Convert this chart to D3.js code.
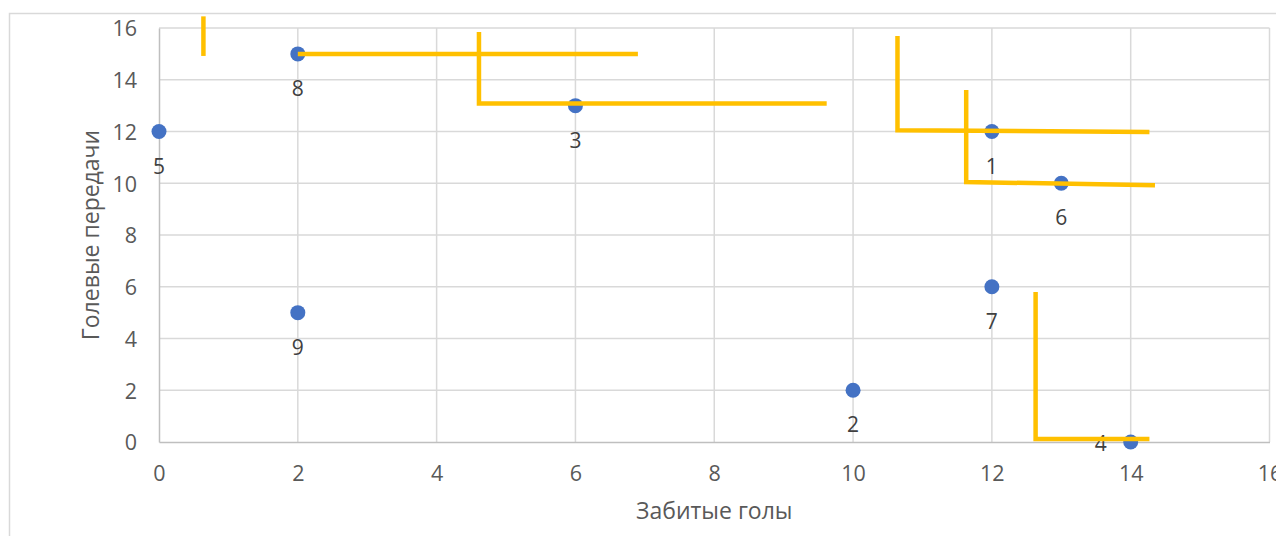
<!DOCTYPE html>
<html>
<head>
<meta charset="utf-8">
<script src="https://cdn.jsdelivr.net/npm/d3@7"></script>
<style>
  html, body { margin: 0; padding: 0; background: #fff; }
  svg { display: block; font-family: "Open Sans", "Noto Sans", sans-serif; }
</style>
</head>
<body>
<svg id="chart" width="1276" height="536"></svg>
<script>
// Players: goals scored (x) vs assists (y), each marked with its number
const playerIds = ["1", "2", "3", "4", "5", "6", "7", "8", "9"];
const goals     = [12, 10, 6, 14, 0, 13, 12, 2, 2];
const assists   = [12, 2, 13, 0, 12, 10, 6, 15, 5];

const xTicks = [0, 2, 4, 6, 8, 10, 12, 14, 16];
const yTicks = [0, 2, 4, 6, 8, 10, 12, 14, 16];

const xTitle = "Забитые голы";
const yTitle = "Голевые передачи";

// Hand-drawn dominance steps (data units)
const stepA = [[0.64, 16.45], [0.64, 14.92]];
const stepB1 = [[2.0, 15.0], [6.9, 15.0]];
const stepB2 = [[4.61, 15.85], [4.61, 13.08], [9.62, 13.08]];
const stepC = [[10.64, 15.69], [10.64, 12.05], [14.27, 11.98]];
const stepD = [[11.63, 13.6], [11.63, 10.05], [14.35, 9.92]];
const stepE = [[12.63, 5.8], [12.63, 0.12], [14.27, 0.12]];
const steps = [stepA, stepB1, stepB2, stepC, stepD, stepE];

const svg = d3.select("#chart");
const W = 1276, H = 536;

// Outer chart frame (extends past the visible area)
svg.append("path")
  .attr("d", `M9.5,${H} V13.5 H${W}`)
  .attr("fill", "none")
  .attr("stroke", "#d9d9d9")
  .attr("stroke-width", 1.5);

const x = d3.scaleLinear().domain([0, 16]).range([159, 1269.5]);
const y = d3.scaleLinear().domain([0, 16]).range([442, 28]);

// Gridlines
const grid = svg.append("g");
grid.selectAll("line.v").data(xTicks.slice(1)).join("line")
  .attr("x1", d => x(d)).attr("x2", d => x(d))
  .attr("y1", y(0)).attr("y2", y(16))
  .attr("stroke", "#d9d9d9").attr("stroke-width", 1.5);
grid.selectAll("line.h").data(yTicks.slice(1)).join("line")
  .attr("x1", x(0)).attr("x2", x(16))
  .attr("y1", d => y(d)).attr("y2", d => y(d))
  .attr("stroke", "#d9d9d9").attr("stroke-width", 1.5);

// Axes
const xAxis = d3.axisBottom(x).tickValues(xTicks).tickSize(0).tickPadding(24).tickFormat(d3.format("d"));
const yAxis = d3.axisLeft(y).tickValues(yTicks).tickSize(0).tickPadding(22).tickFormat(d3.format("d"));

const gx = svg.append("g").attr("transform", `translate(0,${y(0)})`).call(xAxis);
const gy = svg.append("g").attr("transform", `translate(${x(0)},0)`).call(yAxis);
[gx, gy].forEach(g => {
  g.attr("font-size", 21.5).attr("font-family", "\"Open Sans\", sans-serif");
  g.select(".domain").attr("stroke", "#bfbfbf").attr("stroke-width", 1.5);
  g.selectAll("text").attr("fill", "#595959");
});
gy.selectAll("text").attr("dy", "0.36em");

// Axis titles
svg.append("text")
  .attr("x", (x(0) + x(16)) / 2).attr("y", 519)
  .attr("text-anchor", "middle")
  .attr("fill", "#595959").attr("font-size", 23)
  .text(xTitle);
svg.append("text")
  .attr("transform", `translate(99,${(y(0) + y(16)) / 2}) rotate(-90)`)
  .attr("text-anchor", "middle")
  .attr("fill", "#595959").attr("font-size", 23)
  .text(yTitle);

// Points
const players = playerIds.map((id, i) => ({ id, g: goals[i], a: assists[i] }));
svg.append("g").selectAll("circle").data(players).join("circle")
  .attr("cx", d => x(d.g)).attr("cy", d => y(d.a))
  .attr("r", 7.5)
  .attr("fill", "#4472c4");

// Point labels: below the marker, or to the left when on the baseline
svg.append("g").selectAll("text").data(players).join("text")
  .attr("x", d => d.a === 0 ? x(d.g) - 30 : x(d.g))
  .attr("y", d => d.a === 0 ? y(d.a) + 9 : y(d.a) + 42)
  .attr("text-anchor", "middle")
  .attr("fill", "#404040").attr("font-size", 21)
  .text(d => d.id);

// Dominance steps on top
const line = d3.line().x(d => x(d[0])).y(d => y(d[1]));
svg.append("g").selectAll("path").data(steps).join("path")
  .attr("d", line)
  .attr("fill", "none")
  .attr("stroke", "#ffc000")
  .attr("stroke-width", 4.5)
  .attr("stroke-linejoin", "miter")
  .attr("stroke-linecap", "butt");
</script>
</body>
</html>
